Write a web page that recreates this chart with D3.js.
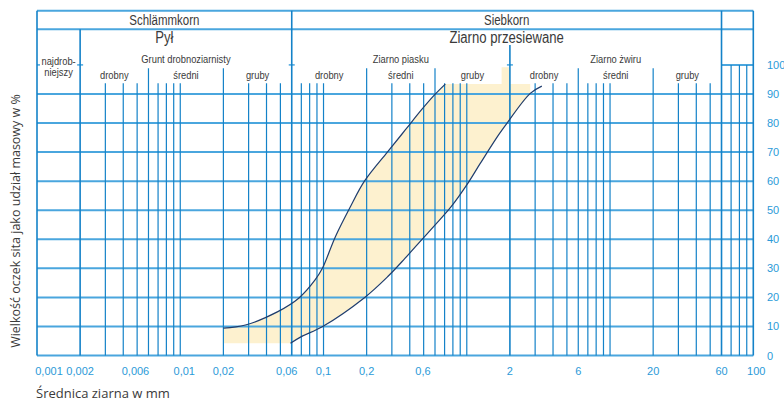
<!DOCTYPE html>
<html>
<head>
<meta charset="utf-8">
<script src="https://cdn.jsdelivr.net/npm/d3@7"></script>
<style>
body { margin: 0; background: #fff; }
.hdr { font-family: "Liberation Sans", Arial, sans-serif; fill: #3a3a3a; text-anchor: middle; }
.tick { font-family: "Liberation Sans", Arial, sans-serif; font-size: 11px; fill: #2b9ad8; }
.title { font-family: "Open Sans", sans-serif; font-size: 13px; fill: #3a3a3a; }
</style>
</head>
<body>
<svg width="784" height="404"></svg>
<script>
// grain size tick labels (mm) and sieve percentages
const xTickValues = [0.001, 0.002, 0.006, 0.01, 0.02, 0.06, 0.1, 0.2, 0.6, 2, 6, 20, 60, 100];
const yTickValues = [0, 10, 20, 30, 40, 50, 60, 70, 80, 90, 100];

// header bands: [label, from mm, to mm]
const topRow = [['Schlämmkorn', 0.001, 0.06], ['Siebkorn', 0.06, 60]];
const mainRow = [['Pył', 0.001, 0.06], ['Ziarno przesiewane', 0.06, 60]];
const groupRow = [['Grunt drobnoziarnisty', 0.002, 0.06], ['Ziarno piasku', 0.06, 2], ['Ziarno żwiru', 2, 60]];
const finestRow = [['najdrob-', 0.001, 0.002], ['niejszy', 0.001, 0.002]];
const subRow = [
    ['drobny', 0.002, 0.006], ['średni', 0.006, 0.02], ['gruby', 0.02, 0.06],
    ['drobny', 0.06, 0.2], ['średni', 0.2, 0.6], ['gruby', 0.6, 2],
    ['drobny', 2, 6], ['średni', 6, 20], ['gruby', 20, 60]
];

// grading curves [mm, %]
const upperCurve = [
    [0.02, 9.4], [0.0285, 10.5], [0.048, 15.1], [0.0671, 19.7], [0.0873, 26.0],
    [0.0982, 30.0], [0.121, 40.9], [0.154, 51.2], [0.193, 60.0], [0.28, 70.1],
    [0.372, 77.6], [0.482, 84.5], [0.593, 89.6], [0.708, 93.4]
];
const lowerCurve = [
    [0.0588, 4.2], [0.07, 6.5], [0.098, 9.9], [0.193, 19.9], [0.28, 27.1],
    [0.37, 33.4], [0.482, 39.7], [0.593, 44.6], [0.778, 51.2], [1.0, 58.7],
    [1.242, 66.1], [1.667, 75.9], [1.905, 79.9], [2.773, 90.2], [3.34, 92.7]
];
const bandFloor = [0.02, 4.2];
const bandCeil = [2.773, 93.4];
const bandTab = [1.75, 2, 93.4, 99.2];

// boundary groups for vertical lines
const frameLines = [0.001, 0.06, 60, 100],
    fractionLines = [0.006, 0.02, 0.2, 0.6, 6, 20],
    stoneLines = [70, 80, 90],
    endTicks = [0.001, 0.002, 0.06, 2];

var margin = {top: 10.7, bottom: 355.5},
    yTop = 64.9,
    narrow = 0.82;

var svg = d3.select('svg');

var x = d3.scaleLog()
    .domain([0.001, 100])
    .range([37, 753.3]);

var y = d3.scaleLinear()
    .domain([0, 100])
    .range([margin.bottom, yTop]);

function key(v) { return Math.round(v * 1e6); }
function inList(list, v) { return list.some(function(d) { return key(d) === key(v); }); }

function lineTop(v) {
    if (inList(frameLines, v)) return margin.top;
    if (key(v) === key(0.002)) return 29.3;
    if (key(v) === key(2)) return 45;
    if (inList(fractionLines, v)) return 68.3;
    if (inList(stoneLines, v)) return y(100);
    return 83.3;
}

// yellow band between the curves
var curve = d3.line()
    .curve(d3.curveCatmullRom.alpha(0.5))
    .x(function(d) { return x(d[0]); })
    .y(function(d) { return y(d[1]); });

var lowerPart = lowerCurve.filter(function(d) { return d[0] <= bandCeil[0]; }).slice().reverse();
var bandPath = 'M' + x(bandFloor[0]) + ',' + y(bandFloor[1]) +
    'L' + curve(upperCurve).slice(1) +
    'L' + x(bandCeil[0]) + ',' + y(upperCurve[upperCurve.length - 1][1]) +
    'L' + curve(lowerPart).slice(1) + 'Z';

svg.append('path')
    .attr('d', bandPath)
    .attr('fill', '#fdf1cf');

svg.append('rect')
    .attr('x', x(bandTab[0]))
    .attr('width', x(bandTab[1]) - x(bandTab[0]))
    .attr('y', y(bandTab[3]))
    .attr('height', y(bandTab[2]) - y(bandTab[3]))
    .attr('fill', '#fdf1cf');

// horizontal grid
svg.append('g')
    .selectAll('line')
    .data(yTickValues.filter(function(d) { return d < 100; }))
    .enter().append('line')
    .attr('x1', x(0.001)).attr('x2', x(100))
    .attr('y1', function(d) { return y(d); })
    .attr('y2', function(d) { return y(d); })
    .attr('stroke', '#4aa6de')
    .attr('stroke-width', 2);

// header frame
[margin.top, 29.3].forEach(function(h) {
    svg.append('line')
        .attr('x1', x(0.001)).attr('x2', x(100))
        .attr('y1', h).attr('y2', h)
        .attr('stroke', '#4aa6de').attr('stroke-width', 2);
});
svg.append('line')
    .attr('x1', x(60)).attr('x2', x(100))
    .attr('y1', y(100)).attr('y2', y(100))
    .attr('stroke', '#4aa6de').attr('stroke-width', 2);

svg.append('g')
    .selectAll('line')
    .data(endTicks)
    .enter().append('line')
    .attr('x1', function(d) { return Math.max(x(d) - 3, x(0.001)); })
    .attr('x2', function(d) { return x(d) + 3; })
    .attr('y1', y(100)).attr('y2', y(100))
    .attr('stroke', '#4aa6de').attr('stroke-width', 1.5);

// vertical grid
svg.append('g')
    .selectAll('line')
    .data(x.ticks())
    .enter().append('line')
    .attr('x1', function(d) { return x(d); })
    .attr('x2', function(d) { return x(d); })
    .attr('y1', function(d) { return lineTop(d); })
    .attr('y2', margin.bottom)
    .attr('stroke', '#1482c8')
    .attr('stroke-width', function(d) { return inList(frameLines, d) || inList(endTicks, d) ? 1.6 : 1.2; });

// curves
[upperCurve, lowerCurve].forEach(function(c) {
    svg.append('path')
        .attr('d', curve(c))
        .attr('fill', 'none')
        .attr('stroke', '#1f3d6e')
        .attr('stroke-width', 1.2);
});

// header texts, condensed like the original lettering
function mid(d) { return (x(d[1]) + x(d[2])) / 2; }

function addRow(rows, baseline, size) {
    svg.append('g')
        .selectAll('text')
        .data(rows)
        .enter().append('text')
        .attr('class', 'hdr')
        .attr('transform', function(d) {
            return 'translate(' + mid(d) + ',' + baseline + ') scale(' + narrow + ',1)';
        })
        .style('font-size', size + 'px')
        .text(function(d) { return d[0]; });
}

addRow(topRow, 25, 14);
addRow(mainRow, 42.5, 16);
addRow(groupRow, 63, 11.4);
addRow(subRow, 78.5, 11.4);
addRow(finestRow.slice(0, 1), 64.5, 11.4);
addRow(finestRow.slice(1), 76, 11.4);

// axes labels
var labelShift = {0.001: 12, 0.006: -13, 0.01: 4, 0.06: -5, 0.6: -12, 100: 3};
var fmt = function(d) { return String(d).replace('.', ','); };

svg.append('g')
    .selectAll('text')
    .data(xTickValues)
    .enter().append('text')
    .attr('class', 'tick')
    .attr('text-anchor', 'middle')
    .attr('x', function(d) { return x(d) + (labelShift[d] || 0); })
    .attr('y', 375)
    .text(fmt);

svg.append('g')
    .selectAll('text')
    .data(yTickValues)
    .enter().append('text')
    .attr('class', 'tick')
    .attr('x', 767)
    .attr('y', function(d) { return y(d) + 4; })
    .text(function(d) { return d; });

svg.append('text')
    .attr('class', 'title')
    .attr('x', 36)
    .attr('y', 398)
    .text('Średnica ziarna w mm');

svg.append('text')
    .attr('class', 'title')
    .attr('text-anchor', 'middle')
    .style('font-size', '12.5px')
    .attr('transform', 'translate(20,221) rotate(-90)')
    .text('Wielkość oczek sita jako udział masowy w %');
</script>
</body>
</html>
